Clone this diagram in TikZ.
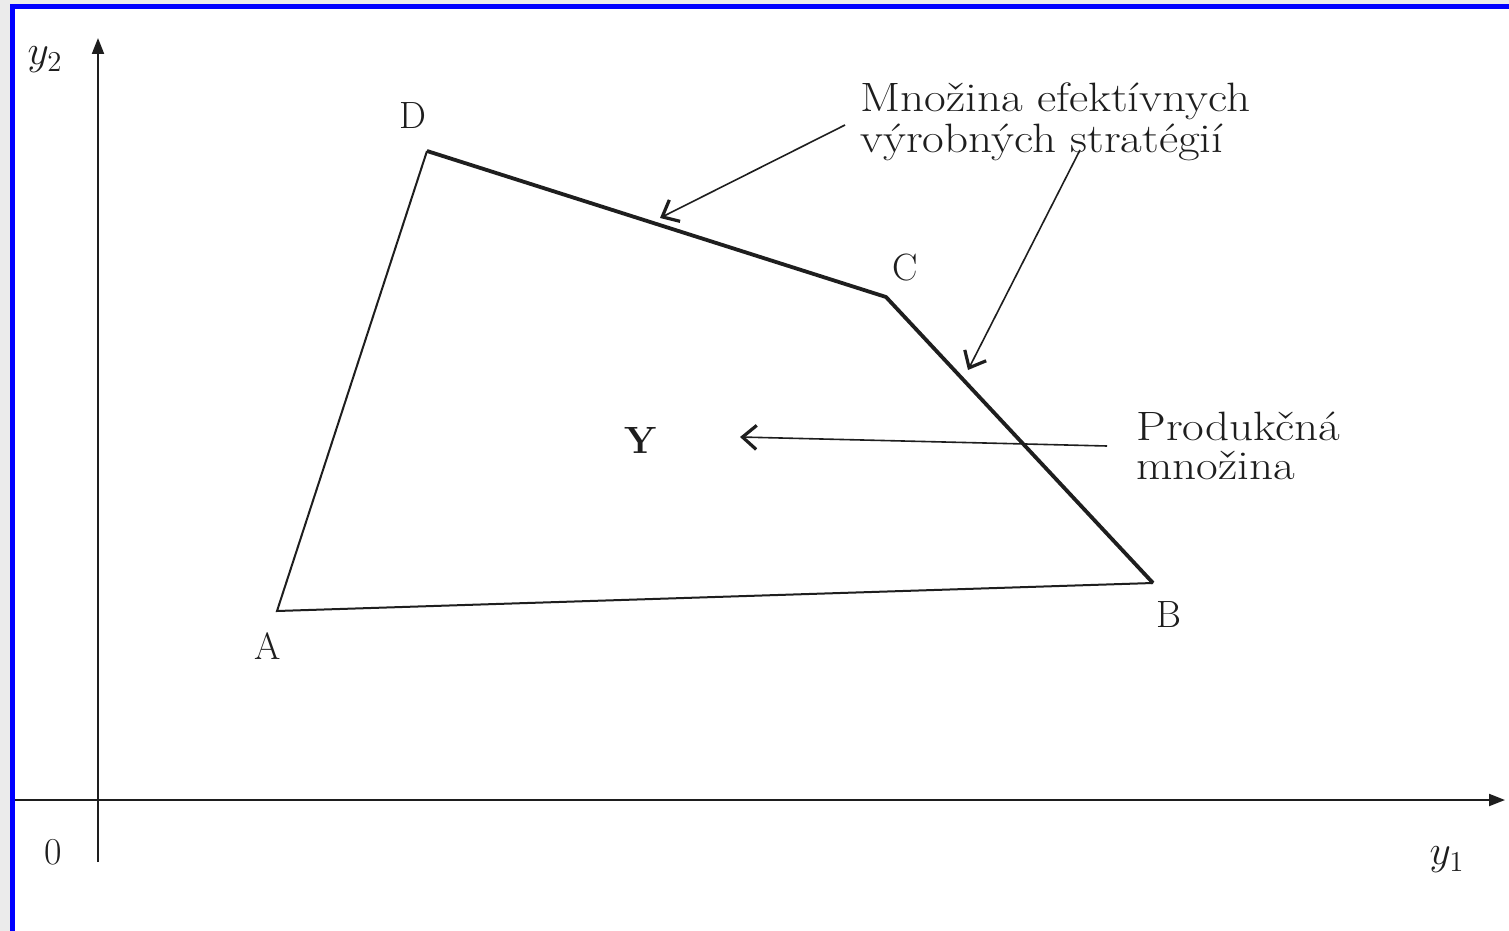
\documentclass[tikz,border=0pt]{standalone}
\usetikzlibrary{arrows.meta}
\definecolor{bggray}{RGB}{235,235,235}
\definecolor{frameblue}{RGB}{0,0,255}
\definecolor{ink}{RGB}{30,30,30}
\newcommand{\wide}[1]{\scalebox{1.15}[1]{#1}}
\begin{document}
\begin{tikzpicture}[x=0.5pt,y=-0.5pt,
  lbl/.style={inner sep=0pt,text=ink,font=\fontsize{19}{19}\selectfont},
  txt/.style={inner sep=0pt,text=ink,anchor=base west,font=\fontsize{20.5}{20.5}\selectfont},
  axis/.style={draw=ink,line width=1pt,-{Triangle[length=8pt,width=6pt]}},
  thin/.style={draw=ink,line width=1pt},
  thick/.style={draw=ink,line width=1.9pt,line join=round},
  pointer/.style={draw=ink,line width=0.8pt,-{Straight Barb[length=7pt,width=12pt,line width=1.6pt]}}]
\useasboundingbox (0,0) rectangle (1509,931);
\fill[bggray] (0,0) rectangle (1509,931);
\fill[white] (10,4) rectangle (1509,931);
\fill[frameblue] (10,4) rectangle (1509,9);
\fill[frameblue] (10,4) rectangle (15,931);
% axes
\coordinate (O1) at (98,862);
\coordinate (O2) at (98,38);
\coordinate (X1) at (15,800);
\coordinate (X2) at (1505,800);
\draw[axis] (O1) -- (O2);
\draw[axis] (X1) -- (X2);
\node[lbl,font=\fontsize{20}{20}\selectfont] (y2) at (45,60) {$y_2$};
\node[lbl,font=\fontsize{20}{20}\selectfont] (y1) at (1447,860) {$y_1$};
\node[lbl] (zero) at (53,852) {0};
% polygon
\coordinate (A) at (277,611);
\coordinate (B) at (1153,583);
\coordinate (C) at (886,297);
\coordinate (D) at (427,151);
\draw[thin] (D) -- (A) -- (B);
\draw[thick] (D) -- (C) -- (B);
\node[lbl] (lA) at (268,646) {A};
\node[lbl] (lB) at (1169,615) {B};
\node[lbl] (lC) at (905,268) {C};
\node[lbl] (lD) at (413,116) {D};
\node[lbl,font=\fontsize{19}{19}\selectfont\bfseries] (Y) at (641,440) {Y};
% texts
\node[txt] (eff1) at (860,112) {\wide{Množina efektívnych}};
\node[txt] (eff2) at (860,152) {\wide{výrobných stratégií}};
\node[txt] (prod1) at (1136,440) {\wide{Produkčná}};
\node[txt] (prod2) at (1136,479) {\wide{množina}};
% pointers
\coordinate (s1) at (845,125);
\coordinate (e1) at (660,218);
\coordinate (s2) at (1080,150);
\coordinate (e2) at (968,370);
\coordinate (s3) at (1107,446);
\coordinate (e3) at (740,437);
\draw[pointer] (s1) -- (e1);
\draw[pointer] (s2) -- (e2);
\draw[pointer] (s3) -- (e3);
\end{tikzpicture}
\end{document}
